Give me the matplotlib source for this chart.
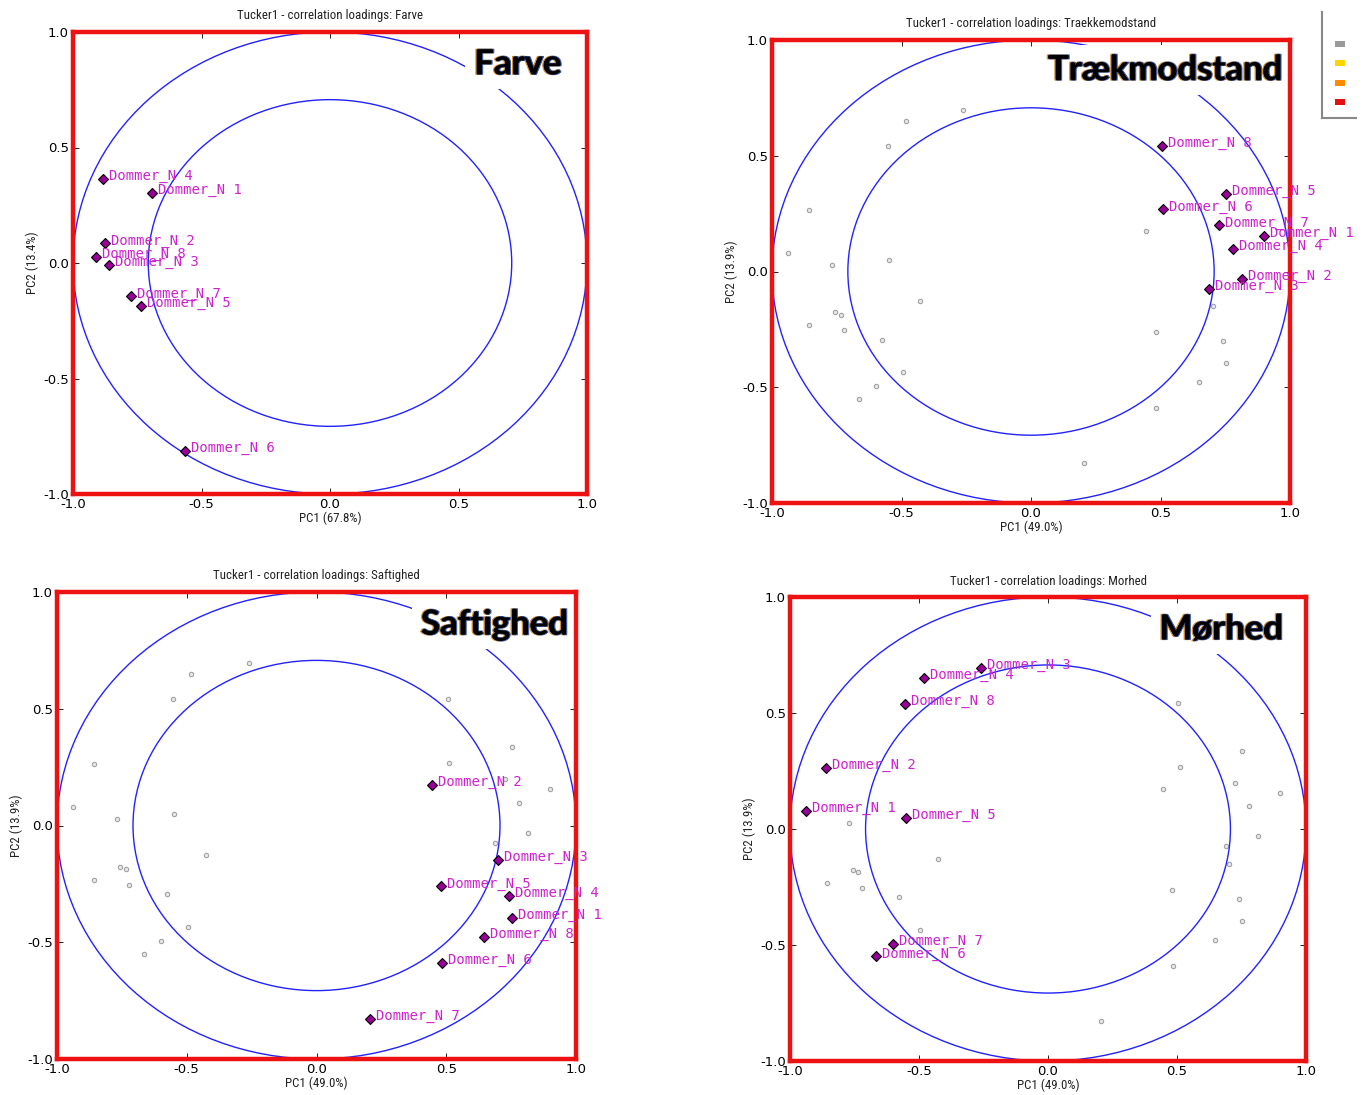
import matplotlib
matplotlib.use("Agg")
import matplotlib.pyplot as plt
import matplotlib.patheffects as pe
from matplotlib.patches import Circle, Rectangle
from matplotlib import font_manager
from matplotlib.font_manager import FontProperties

plt.rcParams["axes.unicode_minus"] = False

# ---------------------------------------------------------------------------
# Correlation loadings (PC1, PC2) for each judge, per attribute block
# ---------------------------------------------------------------------------
judges = ["Dommer_N 1", "Dommer_N 2", "Dommer_N 3", "Dommer_N 4",
          "Dommer_N 5", "Dommer_N 6", "Dommer_N 7", "Dommer_N 8"]

# Separate Tucker1 model for colour
farve_pc1 = [-0.691, -0.877, -0.860, -0.885, -0.734, -0.564, -0.776, -0.911]
farve_pc2 = [0.302, 0.085, -0.010, 0.365, -0.187, -0.812, -0.145, 0.028]

# Joint Tucker1 model for the texture attributes
trak_pc1 = [0.898, 0.814, 0.689, 0.781, 0.753, 0.511, 0.725, 0.505]
trak_pc2 = [0.155, -0.032, -0.075, 0.097, 0.336, 0.268, 0.199, 0.543]

saft_pc1 = [0.752, 0.444, 0.701, 0.740, 0.481, 0.484, 0.205, 0.647]
saft_pc2 = [-0.396, 0.173, -0.149, -0.302, -0.261, -0.589, -0.828, -0.479]

morh_pc1 = [-0.938, -0.859, -0.261, -0.482, -0.550, -0.665, -0.599, -0.553]
morh_pc2 = [0.079, 0.265, 0.696, 0.650, 0.049, -0.549, -0.494, 0.540]

# Fourth block of the joint model (only shown as background points)
rest_pc1 = [-0.770, -0.427, -0.757, -0.735, -0.857, -0.722, -0.577, -0.496]
rest_pc2 = [0.026, -0.128, -0.176, -0.186, -0.232, -0.253, -0.294, -0.434]

ticks = [-1.0, -0.5, 0.0, 0.5, 1.0]
tick_labels = ["-1.0", "-0.5", "0.0", "0.5", "1.0"]

# ---------------------------------------------------------------------------
W, H = 1368, 1095
fig = plt.figure(figsize=(W / 100, H / 100), dpi=100)
fig.patch.set_facecolor("white")


def narrow_font():
    """Pick a condensed sans-serif face if one is installed."""
    fonts = font_manager.fontManager.ttflist
    for f in fonts:
        if f.name in ("Liberation Sans Narrow", "Arial Narrow") and f.weight in (400, "normal") \
                and f.style == "normal":
            return f.fname
    for pref in ("Roboto", "Open Sans", "Noto Sans", "DejaVu Sans", "Liberation Sans", "Lato"):
        for f in fonts:
            st = str(f.stretch).lower()
            if f.name.startswith(pref) and f.style == "normal" and f.weight in (400, "normal") \
                    and ("condensed" in st or "Condensed" in f.name or "Narrow" in f.name) \
                    and "extra" not in st and "ultra" not in st:
                return f.fname
    return None


narrow_path = narrow_font()
label_texts = []


def label_props(size=10):
    if narrow_path:
        return dict(fontproperties=FontProperties(fname=narrow_path, size=size))
    return dict(family="Liberation Sans", fontsize=size)


def px_axes(x0, x1, top, bottom):
    return fig.add_axes([x0 / W, 1 - bottom / H, (x1 - x0) / W, (bottom - top) / H])


def panel(ax, title, xlabel, ylabel, name, name_pos, main, background):
    ax.set_xlim(-1, 1)
    ax.set_ylim(-1, 1)
    ax.set_xticks(ticks)
    ax.set_yticks(ticks)
    ax.set_xticklabels(tick_labels)
    ax.set_yticklabels(tick_labels)
    ax.tick_params(direction="in", length=4, width=0.6, top=True, right=True,
                   labelsize=9.5, pad=3, colors="black")
    for sp in ax.spines.values():
        sp.set_color("#ee1111")
        sp.set_linewidth(3.2)
        sp.set_zorder(5)

    # background loadings from the other blocks
    for bx, by in background:
        ax.plot(bx, by, linestyle="none", marker="o", ms=3.2, mfc="#e6e6e6",
                mec="#9a9a9a", mew=0.7, zorder=2)

    # 100 % and 50 % explained-variance circles
    for r in (1.0, 0.5 ** 0.5):
        ax.add_patch(Circle((0, 0), r, fill=False, ec="#2222ff", lw=1.0, zorder=3))

    px, py = main
    ax.plot(px, py, linestyle="none", marker="D", ms=5.2, mfc="#990099",
            mec="black", mew=0.8, zorder=4)
    for lab, x, y in zip(judges, px, py):
        ax.annotate(lab, (x, y), xytext=(6, -1), textcoords="offset pixels",
                    family="DejaVu Sans Mono", fontsize=10, color="#cc22cc",
                    va="baseline", ha="left", zorder=6)

    t = ax.annotate(title, (0.5, 1.0), xycoords="axes fraction", xytext=(0, 16),
                    textcoords="offset pixels", ha="center", va="center",
                    color="#222222", **label_props())
    label_texts.append(t)
    t = ax.annotate(xlabel, (0.5, 0.0), xycoords="axes fraction", xytext=(0, -24),
                    textcoords="offset pixels", ha="center", va="center",
                    color="#222222", **label_props())
    label_texts.append(t)
    t = ax.annotate(ylabel, (0.0, 0.5), xycoords="axes fraction", xytext=(-41, 0),
                    textcoords="offset pixels", ha="center", va="center",
                    rotation=90, color="#222222", **label_props())
    label_texts.append(t)

    ax.text(name_pos[0], name_pos[1], name, transform=ax.transAxes, ha="right", va="center",
            family=["Lato", "DejaVu Sans"], fontweight="bold", fontsize=25,
            color="black", zorder=4.5,
            bbox=dict(boxstyle="square,pad=0.25", fc="white", ec="none"),
            path_effects=[pe.Stroke(linewidth=0.9, foreground="#d9902a", offset=(-0.7, 0)),
                          pe.Stroke(linewidth=0.8, foreground="#3a5aa8", offset=(0.7, 0)),
                          pe.Normal()])


ax1 = px_axes(73, 587, 32, 494)
panel(ax1, "Tucker1 - correlation loadings: Farve", "PC1 (67.8%)", "PC2 (13.4%)",
      "Farve", (0.95, 0.93), (farve_pc1, farve_pc2), [])

ax2 = px_axes(772, 1290, 40, 503)
panel(ax2, "Tucker1 - correlation loadings: Traekkemodstand", "PC1 (49.0%)", "PC2 (13.9%)",
      "Trækmodstand", (0.985, 0.935), (trak_pc1, trak_pc2),
      [(saft_pc1, saft_pc2), (morh_pc1, morh_pc2), (rest_pc1, rest_pc2)])

ax3 = px_axes(57, 576, 592, 1059)
panel(ax3, "Tucker1 - correlation loadings: Saftighed", "PC1 (49.0%)", "PC2 (13.9%)",
      "Saftighed", (0.985, 0.93), (saft_pc1, saft_pc2),
      [(trak_pc1, trak_pc2), (morh_pc1, morh_pc2), (rest_pc1, rest_pc2)])

ax4 = px_axes(790, 1306, 597, 1061)
panel(ax4, "Tucker1 - correlation loadings: Morhed", "PC1 (49.0%)", "PC2 (13.9%)",
      "Mørhed", (0.955, 0.93), (morh_pc1, morh_pc2),
      [(trak_pc1, trak_pc2), (saft_pc1, saft_pc2), (rest_pc1, rest_pc2)])

# Narrow the axis captions: the first title should span about 184 px
fig.canvas.draw()
renderer = fig.canvas.get_renderer()
w0 = label_texts[0].get_window_extent(renderer).width
scale = min(1.0, 184.0 / w0)
for t in label_texts:
    t.set_fontsize(10 * scale)

# Colour key (clipped at the figure edge)
key = px_axes(1322, 1368, 12, 118)
key.set_xlim(0, 46)
key.set_ylim(106, 0)
key.set_xticks([])
key.set_yticks([])
key.patch.set_alpha(0)
for s in ("top", "right"):
    key.spines[s].set_visible(False)
for s in ("left", "bottom"):
    key.spines[s].set_color("#888888")
    key.spines[s].set_linewidth(1.5)
key.spines["bottom"].set_bounds(0, 34)
key_colours = ["#9a9a9a", "#ffd400", "#ff8a00", "#e41010"]
for i, c in enumerate(key_colours):
    key.add_patch(Rectangle((13, 29 + i * 19.3), 10, 6, fc=c, ec="none"))

fig.savefig("out.png", dpi=100, facecolor="white")
